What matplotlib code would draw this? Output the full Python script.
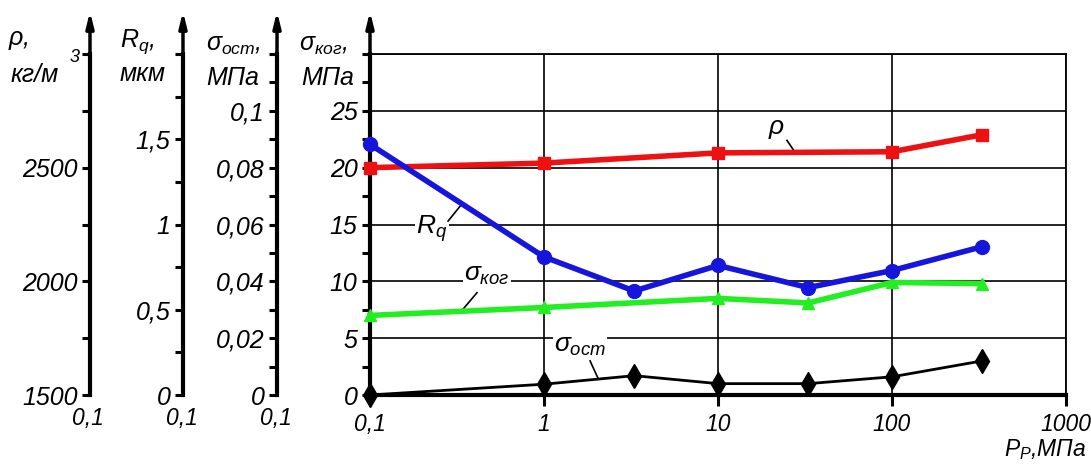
import numpy as np
import matplotlib
matplotlib.use('Agg')
import matplotlib.pyplot as plt
from matplotlib.ticker import FixedLocator, MultipleLocator, NullLocator

plt.rcParams['font.family'] = ['Liberation Sans', 'DejaVu Sans']
plt.rcParams['font.style'] = 'italic'
plt.rcParams['mathtext.fontset'] = 'custom'
plt.rcParams['mathtext.it'] = 'Liberation Sans:italic'
plt.rcParams['mathtext.rm'] = 'Liberation Sans:italic'

# давление прессования, МПа
pressure = [0.1, 1, 3.3, 10, 33, 100, 330]
# плотность, кг/м3
rho_x = [0.1, 1, 10, 100, 330]
rho = [2500, 2520, 2565, 2570, 2645]
# шероховатость, мкм
rq = [1.47, 0.81, 0.61, 0.76, 0.63, 0.73, 0.87]
# когезионная прочность, МПа
kog_x = [0.1, 1, 10, 33, 100, 330]
s_kog = [7.0, 7.7, 8.5, 8.1, 9.9, 9.8]
# остаточные напряжения, МПа
s_ost = [0.0, 0.0038, 0.0068, 0.004, 0.004, 0.0064, 0.012]

x_ticks = [0.1, 1, 10, 100, 1000]
x_labels = ['0,1', '1', '10', '100', '1000']

W, H = 1091, 465
fig = plt.figure(figsize=(W / 100, H / 100), dpi=100)


def px(x, y):
    return x / W, 1 - y / H


ax = fig.add_axes([370 / W, 70 / H, 696 / W, 341 / H])
ax.set_xscale('log')
ax.set_xlim(0.1, 1000)
ax.set_ylim(0, 30)
for s in ['left', 'bottom']:
    ax.spines[s].set_linewidth(3)
for s in ['top', 'right']:
    ax.spines[s].set_linewidth(1.3)
ax.set_axisbelow(True)

TS = 18
XS = 16.5


def extra_axis(pos, lim, major, minor, labels):
    a = ax.twinx()
    a.set_ylim(*lim)
    a.spines['left'].set_visible(True)
    a.spines['left'].set_position(('axes', pos))
    a.spines['left'].set_linewidth(3)
    for s in ['right', 'top', 'bottom']:
        a.spines[s].set_visible(False)
    a.yaxis.set_ticks_position('left')
    a.yaxis.set_major_locator(FixedLocator(major))
    a.yaxis.set_minor_locator(MultipleLocator(minor))
    a.set_yticklabels(labels)
    a.tick_params(which='both', direction='out', length=6, width=2.2, labelsize=TS, pad=3)
    return a


pos_rho, pos_rq, pos_ost = -0.4023, -0.2687, -0.1336
ax_rho = extra_axis(pos_rho, (1500, 3000), [1500, 2000, 2500, 3000], 250,
                    ['1500', '2000', '2500', ''])
ax_rq = extra_axis(pos_rq, (0, 2), [0, 0.5, 1, 1.5, 2], 0.25,
                   ['0', '0,5', '1', '1,5', ''])
ax_ost = extra_axis(pos_ost, (0, 0.12), [0, 0.02, 0.04, 0.06, 0.08, 0.1, 0.12], 0.01,
                    ['0', '0,02', '0,04', '0,06', '0,08', '0,1', ''])

# основная ось: после twinx, чтобы общие локаторы x не сбросились
ax.xaxis.set_major_locator(FixedLocator(x_ticks))
ax.xaxis.set_minor_locator(NullLocator())
ax.xaxis.set_ticklabels(x_labels)
ax.set_xlim(0.1, 1000)
ax.yaxis.set_major_locator(FixedLocator([0, 5, 10, 15, 20, 25, 30]))
ax.yaxis.set_minor_locator(MultipleLocator(2.5))
ax.yaxis.set_ticklabels(['0', '5', '10', '15', '20', '25', ''])
ax.grid(True, which='major', color='k', lw=1.2, zorder=0)
ax.tick_params(which='both', direction='out', length=6, width=2.2, labelsize=TS, pad=3)
ax.tick_params(axis='x', length=8, pad=5, labelsize=XS)

# кривые
ax.plot(kog_x, s_kog, color='#22ee22', lw=4, marker='^', ms=8, clip_on=False, zorder=3)
ax_rho.plot(rho_x, rho, color='#ee1111', lw=4, marker='s', ms=9, clip_on=False)
ax_rq.plot(pressure, rq, color='#1515dd', lw=4, marker='o', ms=10, clip_on=False)
ax_ost.plot(pressure, s_ost, color='k', lw=2, marker='d', ms=12, clip_on=False)

# стрелки осей
for p in [0, pos_ost, pos_rq, pos_rho]:
    ax.annotate('', xy=(p, 1.125), xytext=(p, 0.98), xycoords='axes fraction',
                arrowprops=dict(arrowstyle='-|>,head_length=0.9,head_width=0.22',
                                lw=2.5, color='k', shrinkA=0, shrinkB=0),
                annotation_clip=False)

# подписи кривых
box = dict(facecolor='white', edgecolor='none', pad=1)
ax.text(21.8, 23.4, r'$\rho$', fontsize=19, ha='center', va='center', bbox=box, zorder=2)
ax.plot([24.9, 27.7], [22.4, 21.36], color='k', lw=1.2, zorder=2)
ax.text(0.227, 14.6, r'$R_q$', fontsize=19, ha='center', va='center', bbox=box, zorder=2)
ax.plot([0.281, 0.329], [15.3, 16.6], color='k', lw=1.2, zorder=2)
ax.text(0.47, 10.6, r'$\sigma_{ког}$', fontsize=19, ha='center', va='center', bbox=box, zorder=2)
ax.plot([0.412, 0.333], [9.0, 7.33], color='k', lw=1.2, zorder=2)
ax.text(1.61, 4.3, r'$\sigma_{ост}$', fontsize=19, ha='center', va='center', bbox=box, zorder=2)
ax.plot([1.84, 2.04], [3.0, 1.5], color='k', lw=1.2, zorder=2)

# подписи осей
fs = 18
fig.text(*px(8, 40), r'$\rho$,', fontsize=fs, ha='left', va='center')
fig.text(*px(11, 75), 'кг/м', fontsize=fs, ha='left', va='center')
fig.text(*px(70, 57), '3', fontsize=13, ha='left', va='center')
fig.text(*px(120, 42), r'$R_q$,', fontsize=fs, ha='left', va='center')
fig.text(*px(120, 74), 'мкм', fontsize=fs, ha='left', va='center')
fig.text(*px(206, 45), r'$\sigma_{ост}$,', fontsize=fs, ha='left', va='center')
fig.text(*px(206, 78), 'МПа', fontsize=fs, ha='left', va='center')
fig.text(*px(299, 45), r'$\sigma_{ког}$,', fontsize=fs, ha='left', va='center')
fig.text(*px(301, 78), 'МПа', fontsize=fs, ha='left', va='center')

for xp in [88, 182, 276]:
    fig.text(*px(xp, 418), '0,1', fontsize=XS, ha='center', va='center')
fig.text(*px(1087, 450), r'$P_P$,МПа', fontsize=XS, ha='right', va='center')

fig.savefig('out.png', dpi=100)
